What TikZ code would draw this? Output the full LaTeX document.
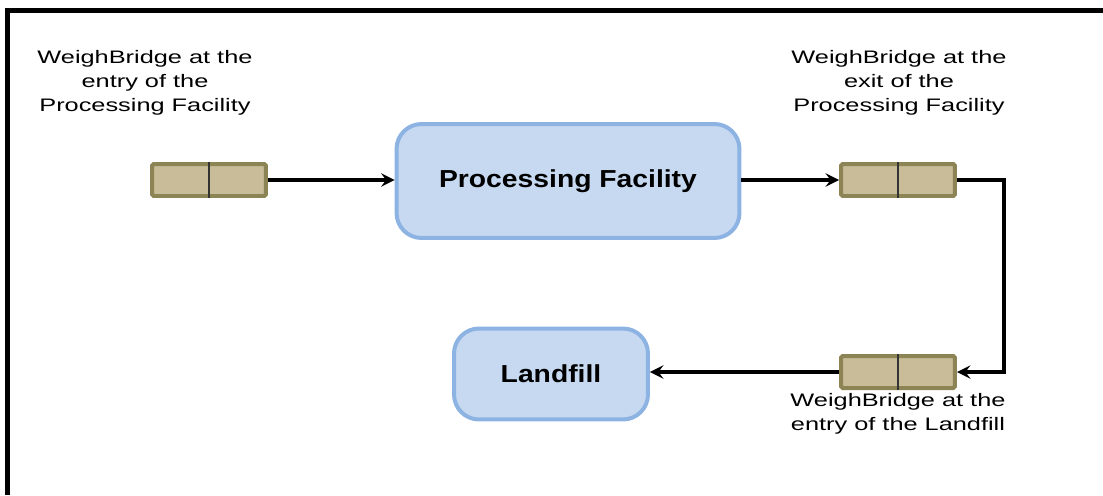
\documentclass[tikz,border=0pt]{standalone}
\usepackage{fontspec}
\newfontfamily\labelfont{Liberation Sans}[FakeStretch=1.4]
\newfontfamily\boxfont{Liberation Sans}[FakeStretch=1.15]
\usetikzlibrary{arrows}
\definecolor{bridgefill}{HTML}{C8BD98}
\definecolor{bridgeline}{HTML}{8C8455}
\definecolor{sitefill}{HTML}{C6D9F1}
\definecolor{siteline}{HTML}{8DB3E2}
\tikzstyle{flow} = [line width=0.08cm,->,>=stealth]
\tikzstyle{bridge} = [rectangle, draw=bridgeline, fill=bridgefill, line width=0.08cm,
rounded corners=1pt, minimum width=2.28cm, minimum height=0.64cm, inner sep=0pt]
\tikzstyle{site} = [rectangle, draw=siteline, fill=sitefill, line width=0.08cm,
rounded corners=0.5cm, text centered, font=\boxfont\fontsize{14}{16}\selectfont\bfseries]
\tikzstyle{caption} = [align=center, inner sep=0pt, font=\labelfont\fontsize{10.3}{13.6}\selectfont]

\begin{document}
\begin{tikzpicture}[x=0.02cm, y=0.02cm]
    \useasboundingbox (0,0) rectangle (1103,495);
    % Frame
    \draw[line width=0.1cm] (7.5,0) |- (1103,485);

    % Nodes
    \node[bridge] (wbentry) at (209, 315) {};
    \node[site, minimum width=6.86cm, minimum height=2.28cm] (facility) at (568, 314) {Processing Facility};
    \node[bridge] (wbexit)  at (898, 315) {};
    \node[bridge] (wbland)  at (898, 123) {};
    \node[site, minimum width=3.88cm, minimum height=1.82cm] (landfill) at (551, 121) {Landfill};

    % Dividers
    \foreach \wb in {wbentry, wbexit, wbland}
        \draw[line width=1pt, black!80] (\wb.north) -- (\wb.south);

    % Captions
    \node[caption] (capentry) at (145, 412) {WeighBridge at the\\ entry of the\\ Processing Facility};
    \node[caption] (capexit)  at (899, 412) {WeighBridge at the\\ exit of the\\ Processing Facility};
    \node[caption] (capland)  at (898, 81)  {WeighBridge at the\\ entry of the Landfill};

    % Arrows
    \draw[flow] (wbentry.east) -- (wbentry.east -| facility.west);
    \draw[flow] (wbexit.west -| facility.east) -- (wbexit.west);
    \draw[flow] (wbexit.east) -- ++(47,0) |- (wbland.east);
    \draw[flow] (wbland.west) -- (wbland.west -| landfill.east);

\end{tikzpicture}
\end{document}
